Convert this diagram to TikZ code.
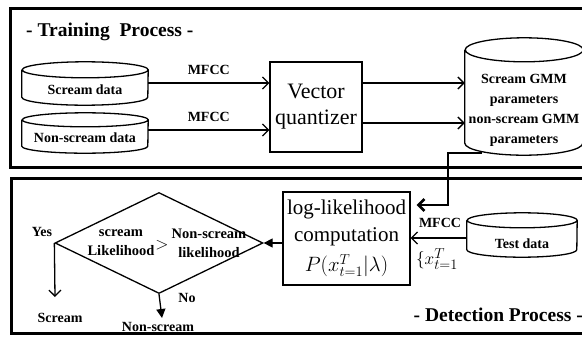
\documentclass[tikz,border=0pt]{standalone}
\usepackage{fontspec}
\setmainfont{Liberation Serif}
\usetikzlibrary{shapes}
\usetikzlibrary{positioning}
\usetikzlibrary{arrows.meta}
\tikzset{
    panel/.style = {line width=3pt,draw=black},
    dbnode/.style = {rectangle, align=center, inner sep=0pt, font=\bfseries\fontsize{14}{15}\selectfont},
    dbline/.style = {line width=1.3pt,draw=black},
    boxnode/.style = {rectangle, line width=1.3pt, draw=black, align=center, inner sep=0pt, font=\fontsize{22}{26}\selectfont},
    decnode/.style = {diamond, line width=1.3pt, draw=black, inner sep=0pt},
    lbl/.style = {inner sep=0pt, align=center, font=\bfseries\fontsize{14}{16}\selectfont},
    ttl/.style = {inner sep=0pt, font=\bfseries\fontsize{19.5}{22}\selectfont},
    edgeo/.style = {-{Straight Barb[length=6pt,width=12pt]},line width=1.3pt},
    edgef/.style = {-{Triangle[length=9pt,width=9pt]},line width=1.3pt},
    edgek/.style = {-{Straight Barb[length=6pt,width=12pt]},line width=2.6pt}
}
% outline of a database node: name, x radius, y radius
\newcommand{\dbshape}[3]{\draw[dbline] ([yshift=-#3]#1.north west) -- ([yshift=#3]#1.south west) arc[start angle=180, end angle=360, x radius=#2, y radius=#3] -- ([yshift=-#3]#1.north east) arc[start angle=0, end angle=360, x radius=#2, y radius=#3];}
% text lowered into the body of a database node
\newcommand{\dbtext}[2]{\raisebox{#1}[0pt][0pt]{#2}}

\begin{document}
\begin{tikzpicture}[x=1pt,y=-1pt]
\clip (0,0) rectangle (582,338);
\useasboundingbox (0,0) rectangle (582,338);
\draw[panel] (10,8) rectangle (600,167);
\draw[panel] (11,178) rectangle (600,333);
\node[ttl, anchor=west] at (26,32) (tp) {- Training\ \ Process -};
\node[ttl, anchor=east] at (583,315) (dp) {- Detection Process -};

% training
\node[dbnode, minimum width=126pt, minimum height=43pt] at (85,83.5) (sd) {\dbtext{-11pt}{Scream data}};
\node[dbnode, minimum width=126pt, minimum height=40pt] at (85,133) (nsd) {\dbtext{-9.5pt}{Non-scream data}};
\node[boxnode, minimum width=92pt, minimum height=90pt] at (316,107) (vq) {Vector\\quantizer};
\node[dbnode, minimum width=118pt, minimum height=117pt] at (524,96.5) (gmm) {\dbtext{-18pt}{\begin{tabular}{@{}c@{}}Scream GMM\\[5pt]parameters\\[5pt]non-scream GMM\\[5pt]parameters\end{tabular}}};
\dbshape{sd}{63pt}{8pt}
\dbshape{nsd}{63pt}{7pt}
\dbshape{gmm}{59pt}{12pt}
%
\draw[edgeo] (sd.east |- 0,83) -- (vq.west |- 0,83) node[lbl, midway, above=8pt] (m1) {MFCC};
\draw[edgeo] (nsd.east |- 0,130) -- (vq.west |- 0,130) node[lbl, midway, above=8pt] (m2) {MFCC};
\draw[edgeo] (vq.east |- 0,83) -- (gmm.west |- 0,83);
\draw[edgeo] (vq.east |- 0,123) -- (gmm.west |- 0,123);

% detection
\node[boxnode, minimum width=127pt, minimum height=93pt, font=\fontsize{21}{27}\selectfont] at (346.5,238.5) (ll) {log-likelihood\\computation\\[3pt]$P(x_{t=1}^{T}|\lambda)$};
\node[dbnode, minimum width=110pt, minimum height=44pt] at (522,235) (td) {\dbtext{-13.5pt}{Test data}};
\dbshape{td}{55pt}{7.5pt}
\node[decnode, minimum width=208pt, minimum height=101pt] at (159,243) (dec) {};
\node[lbl, font=\bfseries\fontsize{14.5}{19}\selectfont] at (121,243) (d1) {scream\\Likelihood};
\node[lbl, font=\fontsize{16}{16}\selectfont] at (162,245) (d2) {$>$};
\node[lbl, font=\bfseries\fontsize{14.5}{19}\selectfont] at (209,243) (d3) {Non-scream\\likelihood};
\coordinate (g1) at (482,153);
\coordinate (y1) at (55,297);
\coordinate (n1) at (162,318);
%
\draw[edgek, shorten >=6pt] (g1) -- (448,153) -- (448,205) -- (ll.east |- 0,205);
\draw[edgeo] (td.west |- 0,238) -- (ll.east |- 0,238);
\node[lbl] at (440,223) (m3) {MFCC};
\node[lbl, font=\fontsize{19}{20}\selectfont] at (437,259) (xs) {$\{x_{t=1}^{T}$};
\draw[edgef] (ll.west |- dec.east) -- (dec.east);
\draw[edgeo] (dec.west) -- (y1);
\draw[edgef] (dec.south) -- (n1);
\node[lbl] at (42,232) (yes) {Yes};
\node[lbl] at (60,318) (sc) {Scream};
\node[lbl] at (187,298) (no) {No};
\node[lbl] at (158,327) (nsc) {Non-scream};

\end{tikzpicture}
\end{document}
